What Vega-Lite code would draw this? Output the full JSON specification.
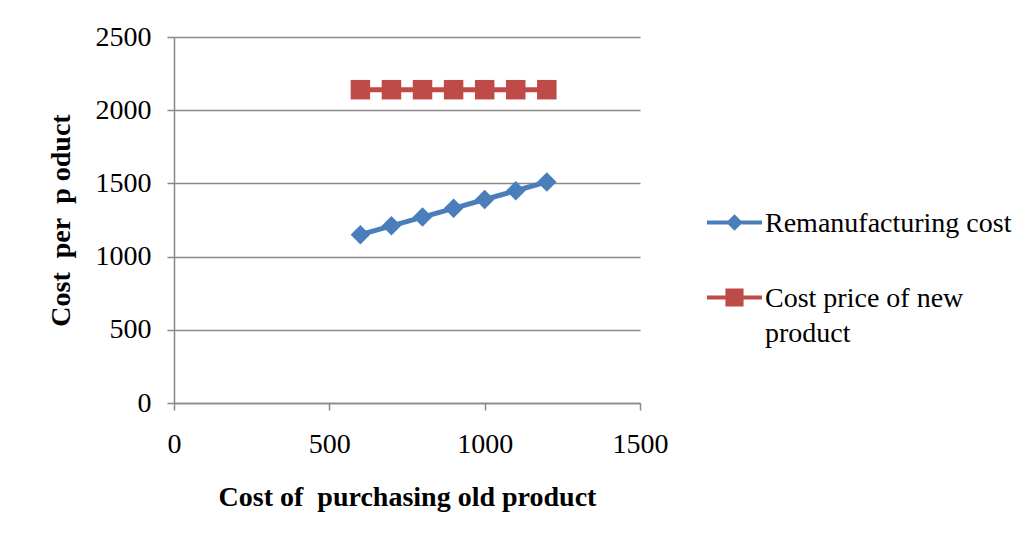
{
  "$schema": "https://vega.github.io/schema/vega-lite/v6.json",
  "width": 466,
  "height": 366,
  "autosize": "none",
  "padding": {"left": 174, "top": 37, "right": 389, "bottom": 137},
  "background": "white",
  "config": {
    "font": "Liberation Serif",
    "view": {"stroke": null},
    "axis": {
      "labelFont": "Liberation Serif",
      "labelFontSize": 28,
      "labelColor": "black",
      "labelFlush": false,
      "titleFont": "Liberation Serif",
      "titleFontSize": 28,
      "titleFontWeight": "bold",
      "titleColor": "black",
      "domainColor": "#888888",
      "domainWidth": 1.5,
      "tickColor": "#888888",
      "tickWidth": 1.5,
      "tickSize": 7,
      "gridColor": "#888888",
      "gridWidth": 1.5
    }
  },
  "data": {
    "values": [
      {"purchase": 600, "cost": 1150, "series": "Remanufacturing cost"},
      {"purchase": 700, "cost": 1210, "series": "Remanufacturing cost"},
      {"purchase": 800, "cost": 1270, "series": "Remanufacturing cost"},
      {"purchase": 900, "cost": 1330, "series": "Remanufacturing cost"},
      {"purchase": 1000, "cost": 1390, "series": "Remanufacturing cost"},
      {"purchase": 1100, "cost": 1450, "series": "Remanufacturing cost"},
      {"purchase": 1200, "cost": 1510, "series": "Remanufacturing cost"},
      {"purchase": 600, "cost": 2140, "series": "Cost price of new product"},
      {"purchase": 700, "cost": 2140, "series": "Cost price of new product"},
      {"purchase": 800, "cost": 2140, "series": "Cost price of new product"},
      {"purchase": 900, "cost": 2140, "series": "Cost price of new product"},
      {"purchase": 1000, "cost": 2140, "series": "Cost price of new product"},
      {"purchase": 1100, "cost": 2140, "series": "Cost price of new product"},
      {"purchase": 1200, "cost": 2140, "series": "Cost price of new product"}
    ]
  },
  "encoding": {
    "x": {
      "field": "purchase",
      "type": "quantitative",
      "scale": {"domain": [0, 1500], "nice": false},
      "axis": {
        "title": "Cost of\u00a0 purchasing old product",
        "values": [0, 500, 1000, 1500],
        "format": "d",
        "grid": false,
        "labelPadding": 20,
        "titlePadding": 25
      }
    },
    "y": {
      "field": "cost",
      "type": "quantitative",
      "scale": {"domain": [0, 2500], "nice": false},
      "axis": {
        "title": "Cost\u00a0 per\u00a0 p oduct",
        "values": [0, 500, 1000, 1500, 2000, 2500],
        "format": "d",
        "grid": true,
        "labelPadding": 16,
        "titlePadding": 20
      }
    },
    "color": {
      "field": "series",
      "type": "nominal",
      "scale": {
        "domain": ["Remanufacturing cost", "Cost price of new product"],
        "range": ["#4A7EBB", "#BE4B48"]
      },
      "legend": {
        "title": null,
        "orient": "none",
        "legendX": 533,
        "legendY": 158,
        "symbolSize": 3025,
        "symbolStrokeWidth": 0,
        "labelFont": "Liberation Serif",
        "labelFontSize": 28,
        "labelColor": "black",
        "labelOffset": 3,
        "labelLimit": 400,
        "rowPadding": 32,
        "labelExpr": "datum.label == 'Cost price of new product' ? ['Cost price of new', 'product'] : datum.label",
        "encode": {
          "symbols": {
            "update": {
              "shape": {"signal": "datum.value == 'Remanufacturing cost' ? 'M-1,-0.073H1V0.073H-1Z M0,-0.3L0.3,0L0,0.3L-0.3,0Z' : 'M-1,-0.073H1V0.073H-1Z M-0.33,-0.33H0.33V0.33H-0.33Z'"},
              "fill": {"scale": "color", "field": "value"},
              "strokeWidth": {"value": 0}
            }
          },
          "labels": {
            "update": {
              "baseline": {"value": "top"},
              "dy": {"value": -13},
              "lineHeight": {"value": 35}
            }
          }
        }
      }
    }
  },
  "layer": [
    {
      "mark": {"type": "line", "strokeWidth": 5}
    },
    {
      "transform": [{"filter": "datum.series == 'Remanufacturing cost'"}],
      "mark": {"type": "point", "shape": "diamond", "filled": true, "opacity": 1, "size": 380}
    },
    {
      "transform": [{"filter": "datum.series == 'Cost price of new product'"}],
      "mark": {"type": "point", "shape": "square", "filled": true, "opacity": 1, "size": 380}
    }
  ]
}
